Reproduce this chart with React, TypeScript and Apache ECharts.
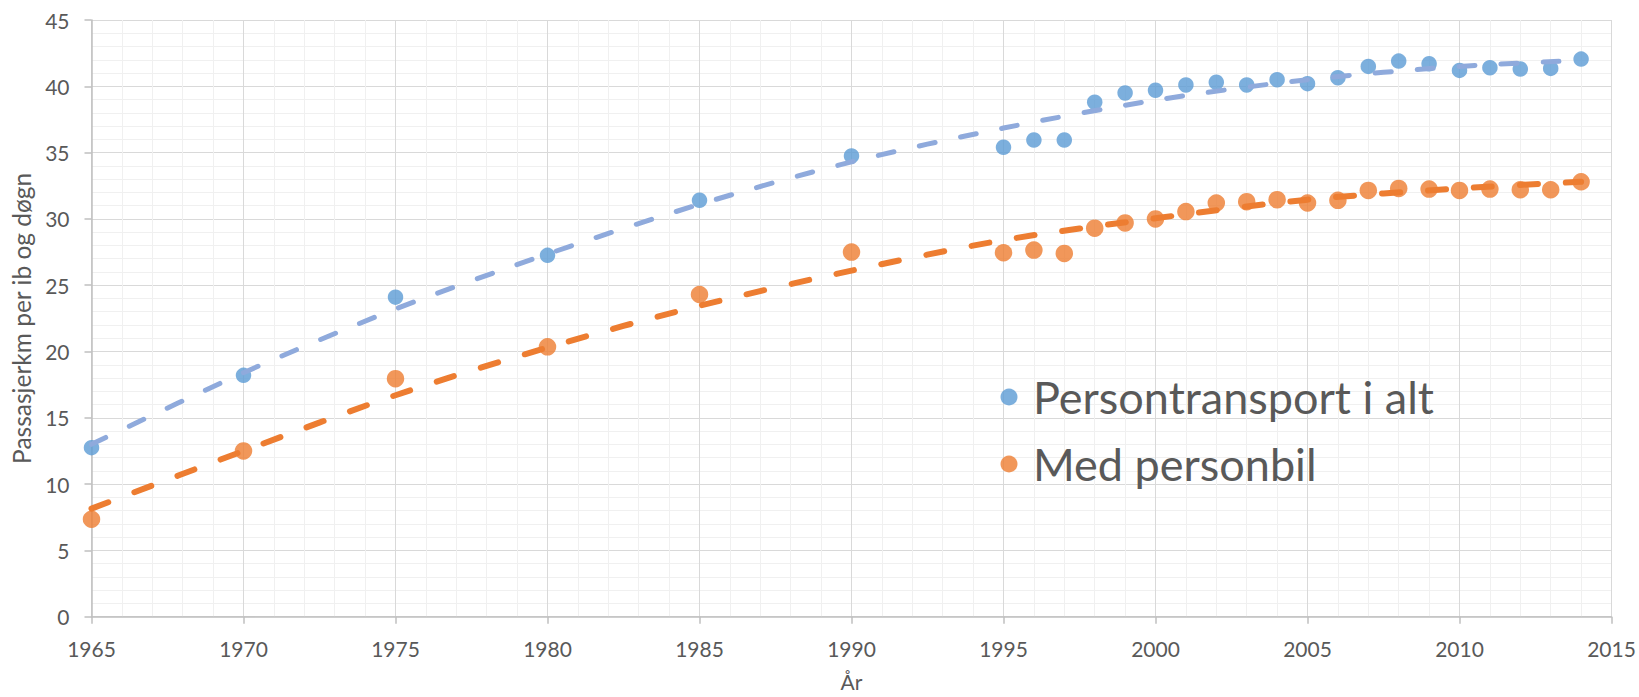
import React, { useEffect, useRef } from "react";
import * as echarts from "echarts";

const years = [1965, 1970, 1975, 1980, 1985, 1990, 1995, 1996, 1997, 1998, 1999, 2000, 2001, 2002, 2003, 2004, 2005, 2006, 2007, 2008, 2009, 2010, 2011, 2012, 2013, 2014];
const totalKm = [12.75, 18.2, 24.1, 27.25, 31.4, 34.75, 35.4, 35.95, 35.95, 38.8, 39.5, 39.7, 40.1, 40.3, 40.1, 40.5, 40.2, 40.65, 41.5, 41.9, 41.7, 41.2, 41.4, 41.3, 41.35, 42.05];
const carKm = [7.35, 12.5, 17.95, 20.35, 24.3, 27.5, 27.45, 27.65, 27.4, 29.3, 29.7, 30.0, 30.55, 31.2, 31.3, 31.45, 31.2, 31.4, 32.15, 32.3, 32.25, 32.15, 32.25, 32.2, 32.2, 32.8];

const trendYears = [1965, 1970, 1975, 1980, 1985, 1990, 1995, 2000, 2005, 2010, 2014];
const totalTrend = [13.0, 18.4, 23.2, 27.35, 31.1, 34.3, 36.85, 38.95, 40.5, 41.5, 41.95];
const carTrend = [8.15, 12.5, 16.7, 20.3, 23.45, 26.1, 28.4, 30.05, 31.45, 32.3, 32.8];

const seriesNames = ["Persontransport i alt", "Med personbil"];
const xTitle = "År";
const yTitle = "Passasjerkm per ib og døgn";

const FONT = "Lato, 'Open Sans', sans-serif";
const TEXT = "#595959";

export default function App() {
  const ref = useRef<HTMLDivElement>(null);
  useEffect(() => {
    if (!ref.current) return;
    const chart = echarts.init(ref.current, undefined, { renderer: "svg" });
    const pair = (xs: number[], ys: number[]) => xs.map((x, i) => [x, ys[i]]);
    chart.setOption({
      animation: false,
      backgroundColor: "#ffffff",
      textStyle: { fontFamily: FONT, color: TEXT },
      grid: { left: 91.5, right: 27.5, top: 20, bottom: 80.3, containLabel: false, outerBoundsMode: "none" },
      legend: {
        data: seriesNames,
        orient: "vertical",
        left: 1000.5,
        top: 372,
        padding: 0,
        icon: "circle",
        itemWidth: 38,
        itemHeight: 17,
        itemGap: 17,
        textStyle: { fontFamily: FONT, fontSize: 45, color: TEXT, lineHeight: 50 },
      },
      xAxis: {
        type: "value",
        min: 1965,
        max: 2015,
        interval: 5,
        name: xTitle,
        nameLocation: "middle",
        nameGap: 54,
        nameTextStyle: { fontFamily: FONT, fontSize: 21, color: TEXT },
        axisLine: { show: true, lineStyle: { color: "#bfbfbf", width: 1.5 } },
        axisTick: { show: true, length: 7, lineStyle: { color: "#bfbfbf", width: 1.5 } },
        axisLabel: { fontFamily: FONT, fontSize: 21, color: TEXT, margin: 21, formatter: (v: number) => String(v) },
        splitLine: { show: true, lineStyle: { color: "#d9d9d9", width: 1 } },
        minorTick: { show: false, splitNumber: 5 },
        minorSplitLine: { show: true, lineStyle: { color: "#f0f0f0", width: 1 } },
      },
      yAxis: {
        type: "value",
        min: 0,
        max: 45,
        interval: 5,
        name: yTitle,
        nameLocation: "middle",
        nameGap: 57,
        nameRotate: 90,
        nameTextStyle: { fontFamily: FONT, fontSize: 24.5, color: TEXT },
        axisLine: { show: true, lineStyle: { color: "#bfbfbf", width: 1.5 } },
        axisTick: { show: true, length: 7, lineStyle: { color: "#bfbfbf", width: 1.5 } },
        axisLabel: { fontFamily: FONT, fontSize: 21, color: TEXT, margin: 22 },
        splitLine: { show: true, lineStyle: { color: "#d9d9d9", width: 1 } },
        minorTick: { show: false, splitNumber: 5 },
        minorSplitLine: { show: true, lineStyle: { color: "#f0f0f0", width: 1 } },
      },
      series: [
        {
          name: seriesNames[0],
          type: "scatter",
          data: pair(years, totalKm),
          symbol: "circle",
          symbolSize: 15.5,
          itemStyle: { color: "#5b9bd5" },
          z: 2,
        },
        {
          name: seriesNames[1],
          type: "scatter",
          data: pair(years, carKm),
          symbol: "circle",
          symbolSize: 17.5,
          itemStyle: { color: "#ed7d31" },
          z: 2,
        },
        {
          name: "trend1",
          type: "line",
          data: pair(trendYears, totalTrend),
          smooth: 0.3,
          showSymbol: false,
          symbol: "none",
          lineStyle: { color: "#8faadc", width: 5, type: [16, 26], cap: "round" },
          z: 3,
        },
        {
          name: "trend2",
          type: "line",
          data: pair(trendYears, carTrend),
          smooth: 0.3,
          showSymbol: false,
          symbol: "none",
          lineStyle: { color: "#ed7d31", width: 6, type: [18, 28], cap: "round" },
          z: 3,
        },
      ],
    });
    return () => chart.dispose();
  }, []);
  return (
    <div
      ref={ref}
      style={{ position: "fixed", left: 0, top: 0, width: "1639px", height: "697px", background: "#fff" }}
    />
  );
}
